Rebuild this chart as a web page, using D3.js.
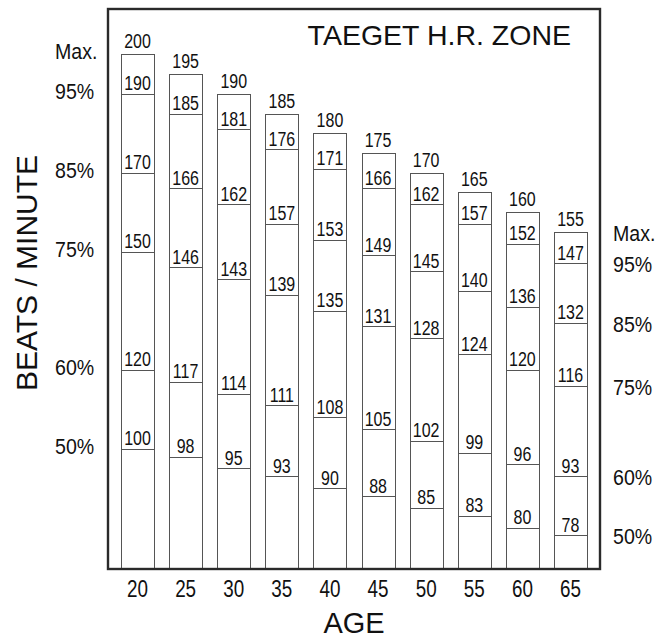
<!DOCTYPE html>
<html>
<head>
<meta charset="utf-8">
<script src="https://cdn.jsdelivr.net/npm/d3@7/dist/d3.min.js"></script>
<style>
  html, body { margin: 0; padding: 0; background: #fff; }
  svg { display: block; }
  text { font-family: "Liberation Sans", Arial, Helvetica, sans-serif; fill: #111; }
</style>
</head>
<body>
<svg id="chart" width="671" height="639"></svg>
<script>
// ---- data ----
const ages   = [20, 25, 30, 35, 40, 45, 50, 55, 60, 65];
const maxHR  = [200, 195, 190, 185, 180, 175, 170, 165, 160, 155];
const pct95  = [190, 185, 181, 176, 171, 166, 162, 157, 152, 147];
const pct85  = [170, 166, 162, 157, 153, 149, 145, 140, 136, 132];
const pct75  = [150, 146, 143, 139, 135, 131, 128, 124, 120, 116];
const pct60  = [120, 117, 114, 111, 108, 105, 102, 99, 96, 93];
const pct50  = [100, 98, 95, 93, 90, 88, 85, 83, 80, 78];
const zoneLabels = ["Max.", "95%", "85%", "75%", "60%", "50%"];
const titleText = "TAEGET H.R. ZONE";
const xTitle = "AGE";
const yTitle = "BEATS / MINUTE";

// ---- layout ----
const svg = d3.select("#chart");
const frame = { left: 108, right: 600, top: 9, bottom: 569 };

const x = d3.scaleBand()
  .domain(ages)
  .range([frame.left, frame.right])
  .paddingInner(0.314)
  .paddingOuter(0.27);

const y = d3.scaleLinear()
  .domain([69.5, 211.5])
  .range([frame.bottom, frame.top]);

const rows = ages.map((a, i) => ({
  age: a,
  vals: [maxHR[i], pct95[i], pct85[i], pct75[i], pct60[i], pct50[i]]
}));

// bars
const g = svg.append("g");
const barG = g.selectAll("g.bar").data(rows).join("g").attr("class", "bar");

barG.append("rect")
  .attr("x", d => Math.round(x(d.age)) + 0.5)
  .attr("y", d => Math.round(y(d.vals[0])) + 0.5)
  .attr("width", Math.round(x.bandwidth()))
  .attr("height", d => frame.bottom - Math.round(y(d.vals[0])))
  .attr("fill", "#fff")
  .attr("stroke", "#555")
  .attr("stroke-width", 1);

barG.selectAll("line.zone")
  .data(d => d.vals.slice(1).map(v => ({ age: d.age, v })))
  .join("line")
  .attr("class", "zone")
  .attr("x1", d => Math.round(x(d.age)) + 0.5)
  .attr("x2", d => Math.round(x(d.age)) + 0.5 + Math.round(x.bandwidth()))
  .attr("y1", d => Math.round(y(d.v)) + 0.5)
  .attr("y2", d => Math.round(y(d.v)) + 0.5)
  .attr("stroke", "#555")
  .attr("stroke-width", 1);

barG.selectAll("text.val")
  .data(d => d.vals.map((v, k) => ({ age: d.age, v, k })))
  .join("text")
  .attr("class", "val")
  .attr("text-anchor", "middle")
  .attr("font-size", 19.5)
  .attr("transform", d => {
    const cx = x(d.age) + x.bandwidth() / 2;
    const by = y(d.v) - (d.k === 0 ? 6 : 3.5);
    return `translate(${cx},${by}) scale(0.82,1)`;
  })
  .text(d => d.v);

// frame
svg.append("rect")
  .attr("x", frame.left)
  .attr("y", frame.top)
  .attr("width", frame.right - frame.left)
  .attr("height", frame.bottom - frame.top)
  .attr("fill", "none")
  .attr("stroke", "#2a2a2a")
  .attr("stroke-width", 2.4);

// x axis tick labels
const xAxis = d3.axisBottom(x).tickSize(0).tickSizeOuter(0).tickPadding(11.5);
const ax = svg.append("g").attr("transform", `translate(0,${frame.bottom})`).call(xAxis);
ax.select(".domain").remove();
ax.selectAll("text")
  .attr("font-size", 23)
  .attr("font-family", "Liberation Sans, Arial, sans-serif")
  .attr("fill", "#111")
  .attr("transform", "scale(0.82,1)");

// zone labels left (bar 20) and right (bar 65)
const first = rows[0].vals, last = rows[rows.length - 1].vals;
svg.selectAll("text.zl")
  .data(zoneLabels.map((t, k) => ({ t, v: first[k] })))
  .join("text")
  .attr("class", "zl")
  .attr("font-size", 22)
  .attr("transform", d => `translate(55,${y(d.v) + 5}) scale(0.89,1)`)
  .text(d => d.t);

svg.selectAll("text.zr")
  .data(zoneLabels.map((t, k) => ({ t, v: last[k] })))
  .join("text")
  .attr("class", "zr")
  .attr("font-size", 22)
  .attr("transform", d => `translate(613,${y(d.v) + 9}) scale(0.89,1)`)
  .text(d => d.t);

// titles
svg.append("text")
  .attr("x", 571).attr("y", 45)
  .attr("text-anchor", "end")
  .attr("font-size", 28.5)
  .text(titleText);

svg.append("text")
  .attr("x", (frame.left + frame.right) / 2).attr("y", 633)
  .attr("text-anchor", "middle")
  .attr("font-size", 29)
  .text(xTitle);

svg.append("text")
  .attr("transform", "translate(37,273) rotate(-90)")
  .attr("text-anchor", "middle")
  .attr("font-size", 30)
  .text(yTitle);
</script>
</body>
</html>
